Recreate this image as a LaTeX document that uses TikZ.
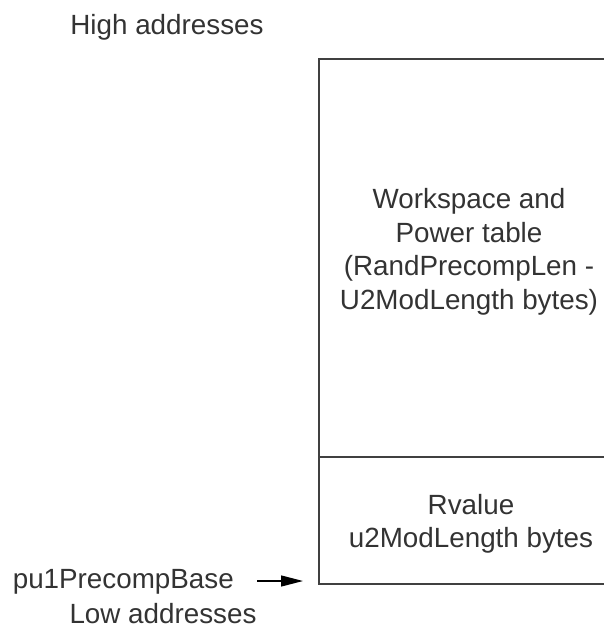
\documentclass[tikz,border=0pt]{standalone}
\usepackage{fontspec}
\setmainfont{Liberation Sans}
\usetikzlibrary{arrows.meta}
\definecolor{linegray}{HTML}{404040}
\definecolor{textgray}{HTML}{333333}
\tikzset{
  lbl/.style={text=textgray, font=\fontsize{27.8}{33.5}\selectfont, align=center, inner sep=0pt},
  edge/.style={draw=linegray, line width=1.6pt},
  ptr/.style={draw=black, line width=1.3pt, -{Triangle[length=22pt,width=11pt]}}
}
\begin{document}
\begin{tikzpicture}[x=1pt,y=-1pt]
\useasboundingbox (0,0) rectangle (604,631);
% box corners
\coordinate (tl) at (319,59);
\coordinate (tr) at (610,59);
\coordinate (ml) at (319,457);
\coordinate (mr) at (610,457);
\coordinate (bl) at (319,584);
\coordinate (br) at (610,584);
\draw[edge] (tr) -- (tl) -- (bl) -- (br);
\draw[edge] (ml) -- (mr);
\node[lbl] (work) at (469,252) {Workspace and\\Power table\\(RandPrecompLen -\\U2ModLength bytes)};
\node[lbl] (rval) at (471,524) {Rvalue\\u2ModLength bytes};
\node[lbl] (high) at (167,27) {High addresses};
\node[lbl, anchor=east] (base) at (234,582) {pu1PrecompBase};
\node[lbl, anchor=base] (low) at (163,623) {Low addresses};
\coordinate (arrs) at (257,581);
\coordinate (arre) at (303,581);
\draw[ptr] (arrs) -- (arre);
\end{tikzpicture}
\end{document}
